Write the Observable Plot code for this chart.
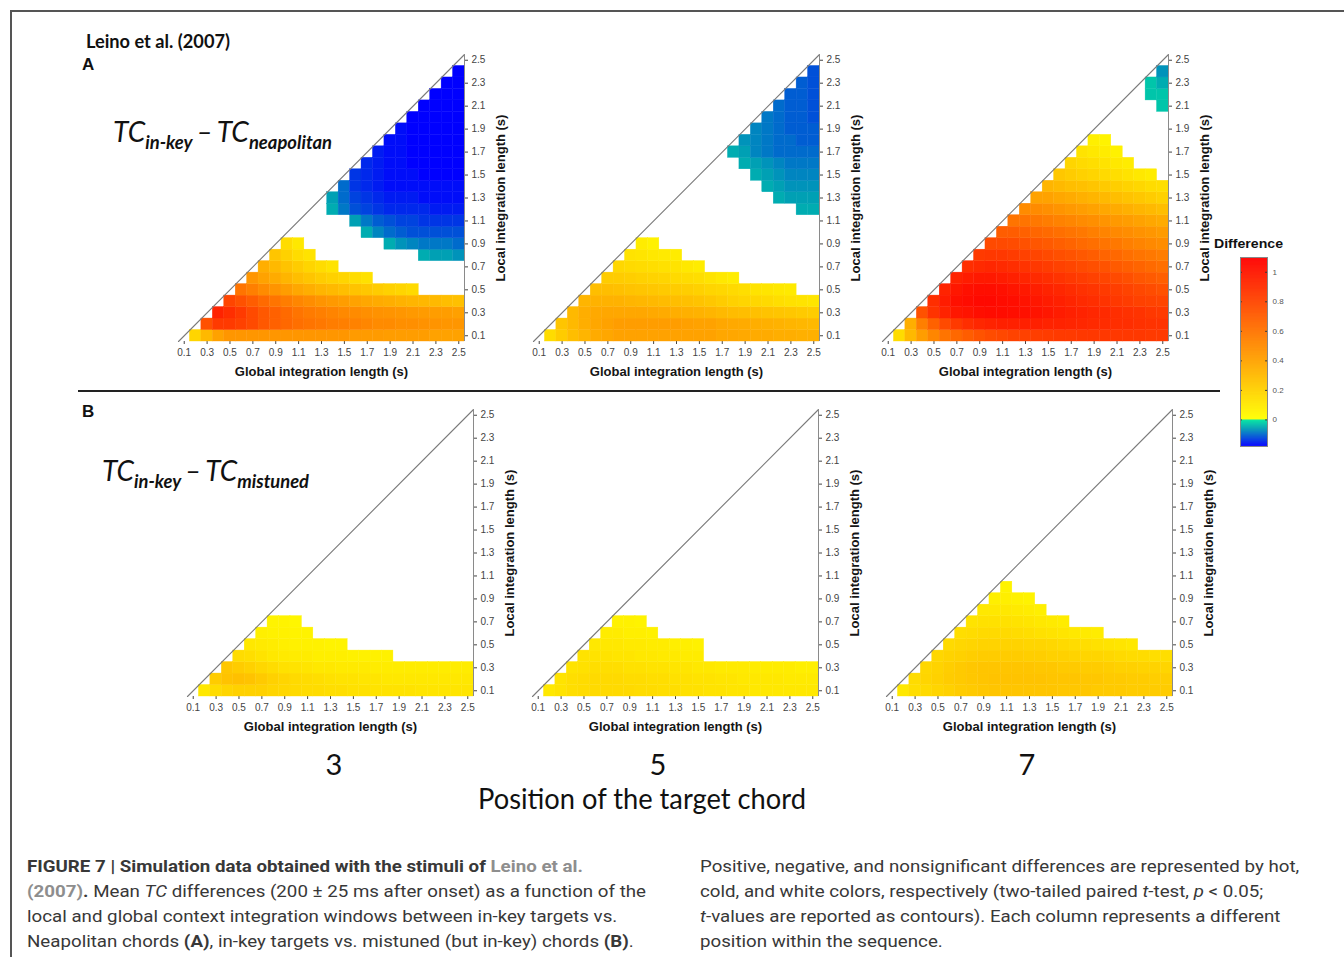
<!DOCTYPE html>
<html><head><meta charset="utf-8">
<script src="https://cdn.jsdelivr.net/npm/d3@7"></script>
<script src="https://cdn.jsdelivr.net/npm/@observablehq/plot@0.6"></script>
<style>
body{margin:0;background:#fff;}
#fig{position:relative;width:1344px;height:957px;overflow:hidden;font-family:"Liberation Sans",Arial,sans-serif;background:#fff;}
.abs{position:absolute;white-space:nowrap;line-height:1;}
.sub{font-size:19px;font-weight:700;position:relative;top:7px;}
.cap{position:absolute;white-space:nowrap;font-family:Roboto,sans-serif;font-size:17px;line-height:25px;color:#383838;}
.gray{color:#8e8e8e;font-weight:700;}
svg{position:absolute;overflow:visible;}
</style></head>
<body><div id="fig"></div>
<script>
const _ = null;
const globalLengths = [0.1,0.2,0.3,0.4,0.5,0.6,0.7,0.8,0.9,1.0,1.1,1.2,1.3,1.4,1.5,1.6,1.7,1.8,1.9,2.0,2.1,2.2,2.3,2.4,2.5];
const localLengths  = [0.1,0.2,0.3,0.4,0.5,0.6,0.7,0.8,0.9,1.0,1.1,1.2,1.3,1.4,1.5,1.6,1.7,1.8,1.9,2.0,2.1,2.2,2.3,2.4,2.5];
const axisTicks = [0.1,0.3,0.5,0.7,0.9,1.1,1.3,1.5,1.7,1.9,2.1,2.3,2.5];
const colorbarTicks = [0,0.2,0.4,0.6,0.8,1];
const colorStops = [-0.18,-0.12,-0.06,-0.001,0,0.4,1.1];
const colorRange = ["#0000ff","#0050d8","#00a0b4","#00e8a0","#ffff00","#ffa200","#ff0000"];
const positionLabels = ["3","5","7"];

// Rows: local length 0.1, 0.2, ...; each row starts at global = local + 0.1; null = not significant
const neap3 = [
 [.18,.3,.4,.45,.45,.45,.45,.45,.45,.45,.45,.45,.45,.45,.43,.43,.43,.42,.42,.42,.42,.4,.4,.4],
 [.75,.85,.85,.82,.78,.72,.68,.65,.62,.6,.58,.56,.55,.54,.52,.5,.5,.48,.48,.47,.46,.45,.45],
 [.95,.9,.85,.78,.72,.68,.64,.6,.57,.55,.53,.51,.5,.48,.47,.46,.45,.44,.43,.42,.42,.41],
 [.8,.75,.7,.64,.6,.56,.52,.49,.46,.44,.42,.4,.38,.36,.35,.33,.32,.31,.3,.28,.27],
 [.6,.55,.5,.46,.42,.38,.35,.32,.3,.28,.26,.24,.22,.2,.18,.16],
 [.45,.4,.36,.32,.28,.25,.22,.2,.18,.15,.13],
 [.35,.3,.26,.22,.18,.15,.12],
 [.25,.2,.15,.12,_,_,_,_,_,_,_,_,_,-.05,-.06,-.06,-.07],
 [.15,.1,_,_,_,_,_,_,_,-.05,-.07,-.08,-.09,-.09,-.09,-.1],
 [_,_,_,_,_,_,-.05,-.08,-.1,-.11,-.12,-.12,-.12,-.12,-.12],
 [_,_,_,_,-.06,-.09,-.11,-.12,-.13,-.13,-.14,-.14,-.14,-.14],
 [_,-.05,-.09,-.12,-.13,-.14,-.15,-.15,-.15,-.15,-.16,-.16,-.16],
 [-.06,-.1,-.13,-.14,-.15,-.16,-.16,-.16,-.17,-.17,-.17,-.17],
 [-.1,-.14,-.15,-.16,-.17,-.17,-.17,-.17,-.17,-.17,-.17],
 [-.14,-.15,-.16,-.17,-.17,-.17,-.18,-.18,-.18,-.18],
 [-.15,-.16,-.17,-.17,-.18,-.18,-.18,-.18,-.18],
 [-.16,-.17,-.17,-.18,-.18,-.18,-.18,-.18],
 [-.17,-.17,-.18,-.18,-.18,-.18,-.18],
 [-.17,-.18,-.18,-.18,-.18,-.18],
 [-.18,-.18,-.18,-.18,-.18],
 [-.18,-.18,-.18,-.18],
 [-.18,-.18,-.18],
 [-.18,-.18],
 [-.18]
];
const neap5 = [
 [.15,.22,.28,.32,.36,.38,.4,.4,.4,.4,.4,.4,.4,.4,.4,.38,.38,.37,.36,.36,.35,.35,.34,.34],
 [.25,.3,.35,.38,.4,.42,.42,.42,.42,.42,.42,.41,.4,.4,.38,.37,.36,.35,.34,.33,.32,.31,.3],
 [.3,.35,.37,.38,.38,.38,.38,.37,.36,.35,.34,.33,.32,.3,.29,.28,.27,.26,.25,.24,.23,.22],
 [.32,.33,.33,.33,.32,.31,.3,.29,.28,.27,.26,.24,.22,.2,.18,.17,.16,.14,.13,.12,.11],
 [.28,.28,.27,.26,.25,.24,.23,.22,.21,.2,.18,.17,.16,.14,.12,.11,.1,.09],
 [.22,.22,.21,.2,.19,.18,.16,.15,.14,.12,.1,.08],
 [.17,.16,.15,.14,.13,.12,.1,.08],
 [.12,.11,.1,.09,.08],
 [.08,.06],
 [],
 [],
 [_,_,_,_,_,_,_,_,_,_,_,-.05,-.05],
 [_,_,_,_,_,_,_,_,-.05,-.06,-.06,-.06],
 [_,_,_,_,_,_,-.05,-.06,-.07,-.07,-.07],
 [_,_,_,_,-.05,-.06,-.07,-.08,-.08,-.08],
 [_,_,-.05,-.06,-.07,-.08,-.09,-.09,-.09],
 [-.05,-.06,-.08,-.09,-.1,-.1,-.1,-.1],
 [-.07,-.08,-.09,-.1,-.1,-.11,-.11],
 [-.08,-.09,-.1,-.11,-.11,-.11],
 [-.09,-.1,-.11,-.11,-.12],
 [-.1,-.11,-.11,-.12],
 [-.11,-.11,-.12],
 [-.11,-.12],
 [-.12]
];
const neap7 = [
 [.15,.3,.42,.52,.6,.65,.7,.74,.77,.79,.81,.82,.83,.84,.85,.85,.86,.86,.86,.86,.86,.86,.85,.85],
 [.35,.55,.68,.78,.85,.9,.93,.95,.96,.96,.96,.96,.95,.95,.94,.93,.92,.91,.9,.9,.89,.88,.88],
 [.75,.88,.95,1.0,1.02,1.04,1.05,1.05,1.04,1.03,1.02,1.0,.98,.96,.95,.93,.92,.9,.89,.88,.86,.85],
 [.9,.98,1.03,1.05,1.06,1.06,1.05,1.04,1.02,1.0,.98,.96,.94,.92,.9,.88,.86,.84,.82,.81,.8],
 [.95,1.0,1.03,1.04,1.04,1.03,1.01,.99,.97,.95,.93,.91,.89,.87,.85,.83,.81,.79,.77,.75],
 [.95,.98,.99,.99,.98,.96,.94,.92,.9,.88,.86,.84,.82,.8,.78,.76,.73,.71,.69],
 [.9,.92,.93,.92,.9,.88,.86,.84,.82,.8,.78,.76,.74,.71,.69,.67,.64,.62],
 [.85,.86,.86,.84,.82,.8,.78,.76,.74,.72,.7,.67,.65,.62,.6,.58,.56],
 [.78,.78,.77,.75,.73,.71,.69,.67,.64,.62,.6,.58,.55,.53,.51,.49],
 [.7,.7,.68,.66,.64,.62,.6,.58,.55,.53,.51,.49,.47,.45,.43],
 [.6,.6,.58,.56,.54,.52,.5,.48,.46,.44,.42,.4,.38,.36],
 [.5,.5,.48,.46,.44,.42,.4,.38,.36,.34,.32,.3,.28],
 [.4,.4,.38,.36,.34,.32,.3,.28,.26,.24,.22,.2],
 [.32,.3,.28,.27,.25,.23,.21,.19,.17,.15,.14],
 [.24,.22,.2,.18,.16,.14,.12,.1,.08],
 [.18,.16,.14,.12,.1,.08],
 [.12,.1,.08,.06],
 [.07,.05],
 [],
 [],
 [_,_,_,-.03],
 [_,-.03,-.03],
 [-.03,-.05],
 [-.07]
];
const mist3 = [
 [.1,.15,.18,.2,.2,.2,.18,.17,.16,.15,.15,.14,.14,.13,.13,.12,.12,.12,.12,.11,.11,.11,.11,.11],
 [.22,.26,.27,.26,.23,.2,.18,.16,.15,.14,.13,.12,.12,.11,.11,.1,.1,.1,.1,.1,.1,.1,.1],
 [.24,.22,.2,.17,.15,.13,.12,.11,.1,.1,.09,.09,.09,.08,.08,.08,.08,.08,.08,.08,.08,.08],
 [.15,.14,.12,.1,.09,.08,.08,.07,.07,.07,.06,.06,.06,.06],
 [.1,.09,.08,.07,.06,.06,.06,.05,.05],
 [.07,.06,.06,.05,.05],
 [.05,.05,.04]
];
const mist5 = [
 [.1,.12,.14,.15,.16,.16,.16,.16,.15,.15,.14,.14,.13,.13,.12,.12,.11,.11,.1,.1,.1,.1,.1,.1],
 [.12,.14,.15,.16,.16,.16,.15,.15,.14,.14,.13,.13,.12,.12,.11,.11,.1,.1,.1,.1,.09,.09,.09],
 [.12,.13,.14,.14,.14,.13,.13,.12,.12,.11,.11,.1,.1,.09,.09,.09,.08,.08,.08,.08,.07,.07],
 [.12,.12,.12,.11,.11,.1,.1,.09,.09,.08,.08],
 [.1,.1,.1,.09,.09,.08,.08,.07,.07,.06],
 [.08,.08,.07,.07,.06],
 [.06,.06,.05]
];
const mist7 = [
 [.1,.14,.16,.18,.2,.22,.23,.24,.25,.25,.25,.25,.25,.25,.24,.24,.24,.23,.23,.23,.22,.22,.22,.22],
 [.15,.18,.2,.22,.23,.24,.25,.26,.26,.26,.26,.26,.25,.25,.25,.24,.24,.23,.23,.22,.22,.21,.21],
 [.17,.19,.21,.23,.24,.25,.25,.25,.25,.25,.24,.24,.23,.23,.22,.22,.21,.2,.2,.19,.19,.18],
 [.17,.19,.2,.21,.22,.22,.22,.22,.21,.21,.2,.2,.19,.18,.18,.17,.16,.15,.15,.14,.14],
 [.16,.17,.18,.19,.19,.19,.19,.18,.18,.17,.16,.15,.14,.13,.12,.11,.1],
 [.14,.15,.16,.16,.16,.15,.14,.13,.12,.11,.1,.09,.08],
 [.12,.13,.13,.13,.12,.11,.1,.09,.08],
 [.1,.1,.1,.09,.08,.07],
 [.07,.07,.06,.05],
 [.05]
];

const fig = document.getElementById("fig");
const step = globalLengths[1] - globalLengths[0];
const half = step / 2;
const lo = globalLengths[0] - half, hi = globalLengths[globalLengths.length - 1] + half;
const ML = 6, MR = 52, MT = 6, MB = 42, IW = 286, IH = 287;
const colorOpts = {type: "linear", domain: colorStops, range: colorRange, interpolate: "rgb", clamp: true};

function toCells(rows) {
  const cells = [];
  rows.forEach((row, i) => row.forEach((v, j) => {
    if (v == null) return;
    cells.push({g: globalLengths[i + 1 + j], l: localLengths[i], v});
  }));
  return cells;
}

function makePanel(rows, left, top) {
  const cells = toCells(rows);
  const svg = Plot.plot({
    width: ML + IW + MR, height: MT + IH + MB,
    marginLeft: ML, marginRight: MR, marginTop: MT, marginBottom: MB,
    style: {fontSize: "10px", fontFamily: "Liberation Sans, Arial, sans-serif", color: "#444", background: "transparent", overflow: "visible"},
    x: {domain: [lo, hi], ticks: axisTicks, tickFormat: d3.format(".1f"), tickSize: 3, tickPadding: 4, label: null},
    y: {domain: [lo, hi], axis: "right", ticks: axisTicks, tickFormat: d3.format(".1f"), tickSize: 3, tickPadding: 4, label: null},
    color: colorOpts,
    marks: [
      Plot.rect(cells, {x1: d => d.g - half, x2: d => d.g + half, y1: d => d.l - half, y2: d => d.l + half, fill: "v", stroke: "v", strokeWidth: 0.4}),
      Plot.line([lo, hi], {x: d => d, y: d => d, stroke: "#7a7a7a", strokeWidth: 1.1}),
      Plot.ruleX([hi], {stroke: "#8a8a8a", strokeWidth: 1}),
      Plot.text(["Global integration length (s)"], {text: d => d, frameAnchor: "bottom", dy: 30, textAnchor: "middle", lineAnchor: "middle", fontWeight: "bold", fontSize: 13, fill: "#151515"}),
      Plot.text(["Local integration length (s)"], {text: d => d, frameAnchor: "right", dx: 36, rotate: -90, textAnchor: "middle", lineAnchor: "middle", fontWeight: "bold", fontSize: 13, fill: "#151515"})
    ]
  });
  svg.style.left = (left - ML) + "px";
  svg.style.top = (top - MT) + "px";
  fig.appendChild(svg);
}

makePanel(neap3, 177.5, 54);
makePanel(neap5, 532.5, 54);
makePanel(neap7, 882, 54);
makePanel(mist3, 187, 409);
makePanel(mist5, 531.5, 409);
makePanel(mist7, 886, 408.5);

// colour bar
(function () {
  const rampStep = 0.0025;
  const ramp = d3.range(colorStops[0], colorStops[colorStops.length - 1], rampStep);
  const svg = Plot.plot({
    width: 1 + 27 + 24, height: 1 + 189 + 1,
    marginLeft: 1, marginRight: 24, marginTop: 1, marginBottom: 1,
    style: {fontSize: "8px", fontFamily: "Liberation Sans, Arial, sans-serif", color: "#555", background: "transparent", overflow: "visible"},
    x: {domain: [0, 1], axis: null},
    y: {domain: [colorStops[0], colorStops[colorStops.length - 1]], axis: "right", ticks: colorbarTicks, tickFormat: d => String(d), tickSize: 0, tickPadding: 5, label: null},
    color: colorOpts,
    marks: [
      Plot.rect(ramp, {x1: 0, x2: 1, y1: d => d, y2: d => Math.min(d + 2 * rampStep, colorStops[colorStops.length - 1]), fill: d => d}),
      Plot.ruleY(colorbarTicks, {x1: 0, x2: 0.07, stroke: "#333"}),
      Plot.ruleY(colorbarTicks, {x1: 0.93, x2: 1, stroke: "#333"}),
      Plot.frame({stroke: "#888"})
    ]
  });
  svg.style.left = (1240 - 1) + "px";
  svg.style.top = (257 - 1) + "px";
  fig.appendChild(svg);
})();

// static texts and rules
function addDiv(html, css, cls) {
  const d = document.createElement("div");
  d.className = cls || "abs";
  d.innerHTML = html;
  Object.assign(d.style, css);
  fig.appendChild(d);
  return d;
}
function fitWidth(el, target, left) {
  const w = el.getBoundingClientRect().width;
  el.style.transformOrigin = "0 50%";
  el.style.transform = "scaleX(" + (target / w) + ")";
  if (left != null) el.style.left = left + "px";
}

addDiv("", {left: "10px", top: "10px", width: "1334px", height: "1.5px", background: "#555"});
addDiv("", {left: "10px", top: "10px", width: "1.5px", height: "947px", background: "#555"});
addDiv("", {left: "78px", top: "390px", width: "1142px", height: "2px", background: "#222"});

const texts = [];
texts.push([addDiv("Leino et al. (2007)", {left: "86px", top: "28.5px", font: "700 19px Lato, sans-serif", color: "#111"}), 144, 86]);
addDiv("A", {left: "82px", top: "55px", font: "700 17px 'Liberation Sans', Arial", color: "#111"});
addDiv("B", {left: "82px", top: "401.5px", font: "700 17px 'Liberation Sans', Arial", color: "#111"});
texts.push([addDiv("TC<span class='sub'>in-key</span><span style='margin:0 4px'>–</span>TC<span class='sub'>neapolitan</span>",
  {left: "112px", top: "113px", font: "italic 29px Lato, sans-serif", color: "#111"}), 219, 112.5]);
texts.push([addDiv("TC<span class='sub'>in-key</span><span style='margin:0 4px'>–</span>TC<span class='sub'>mistuned</span>",
  {left: "101px", top: "452px", font: "italic 29px Lato, sans-serif", color: "#111"}), 207, 101.5]);
const centersX = [334, 658, 1027];
positionLabels.forEach((p, i) => {
  const d = addDiv(p, {left: "0px", top: "745.5px", font: "29px Lato, sans-serif", color: "#111"});
  const w = d.getBoundingClientRect().width;
  d.style.left = (centersX[i] - w / 2) + "px";
});
texts.push([addDiv("Position of the target chord", {left: "478px", top: "780px", font: "29px Lato, sans-serif", color: "#111"}), 328, 478]);
texts.push([addDiv("Difference", {left: "1214px", top: "235.5px", font: "700 13px 'Liberation Sans', Arial", color: "#111"}), 69, 1214]);

const capTop = 853.7, capLH = 25;
const col1 = [
  "<b>FIGURE 7 | Simulation data obtained with the stimuli of </b><span class='gray'>Leino et al.</span>",
  "<span class='gray'>(2007)</span><b>.</b> Mean <i>TC</i> differences (200 ± 25 ms after onset) as a function of the",
  "local and global context integration windows between in-key targets vs.",
  "Neapolitan chords <b>(A)</b>, in-key targets vs. mistuned (but in-key) chords <b>(B)</b>."
];
const col2 = [
  "Positive, negative, and nonsignificant differences are represented by hot,",
  "cold, and white colors, respectively (two-tailed paired <i>t</i>-test, <i>p</i> &lt; 0.05;",
  "<i>t</i>-values are reported as contours). Each column represents a different",
  "position within the sequence."
];
const capEls = [];
col1.forEach((h, i) => capEls.push(addDiv(h, {left: "27px", top: (capTop + i * capLH) + "px"}, "cap")));
col2.forEach((h, i) => capEls.push(addDiv(h, {left: "700px", top: (capTop + i * capLH) + "px"}, "cap")));

function layoutTexts() {
  texts.forEach(([el, w, l]) => { el.style.transform = "none"; fitWidth(el, w, l); });
  capEls.forEach(el => el.style.transform = "none");
  const k = 619 / capEls[1].getBoundingClientRect().width;
  capEls.forEach(el => { el.style.transformOrigin = "0 50%"; el.style.transform = "scaleX(" + k + ")"; });
}
layoutTexts();
if (document.fonts && document.fonts.ready) document.fonts.ready.then(layoutTexts);
</script>
</body></html>
